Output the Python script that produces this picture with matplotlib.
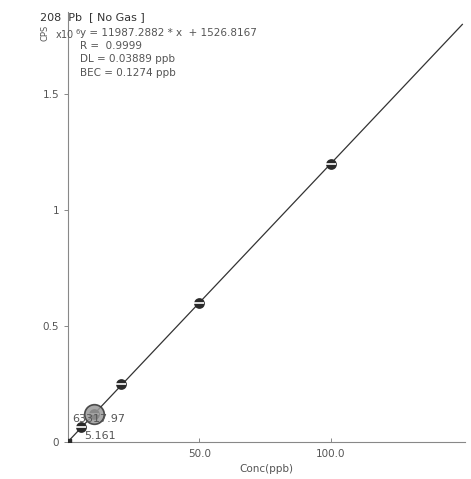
import matplotlib
matplotlib.use("Agg")
import matplotlib.pyplot as plt
import numpy as np

# Calibration standards (ppb) and measured counts per second
conc = [0.0, 5.0, 10.0, 20.0, 50.0, 100.0]
cps = [1526.8, 63317.97, 121500.0, 250000.0, 600000.0, 1200000.0]
slope = 11987.2882
intercept = 1526.8167
x_ticks = [50.0, 100.0]
x_tick_labels = ["50.0", "100.0"]
y_ticks = [0.0, 0.5e6, 1.0e6, 1.5e6]
y_tick_labels = ["0", "0.5", "1", "1.5"]
stats = ["y = 11987.2882 * x  + 1526.8167", "R =  0.9999",
         "DL = 0.03889 ppb", "BEC = 0.1274 ppb"]
selected_cps = "63317.97"
selected_conc = "5.161"

grey = "#555555"
fig = plt.figure(figsize=(4.71, 4.79), dpi=100)
ax = fig.add_axes([68 / 471, 37 / 479, 397 / 471, 430 / 479])
ax.set_xlim(0, 151)
ax.set_ylim(0, 1.853e6)

# fitted calibration line
xf = np.array([0.0, 150.0])
ax.plot(xf, slope * xf + intercept, color="#333333", lw=0.9, zorder=2)

# standards
ax.scatter(conc[1:], cps[1:], s=60, color="#2a2a2a", zorder=3, linewidths=0)
ax.scatter(conc[1:], cps[1:], s=45, marker="_", color="white", linewidths=1.2, zorder=4)
ax.scatter([conc[0]], [cps[0]], s=25, marker="s", color="#2a2a2a", zorder=3)
# highlighted standard
ax.scatter([conc[2]], [cps[2]], s=200, facecolor="#9a9a9a", edgecolor="#333333",
           linewidths=1.2, zorder=5, alpha=0.85)

ax.text(1.5, 0.085e6, selected_cps, fontsize=8, color=grey, zorder=6)
ax.text(6.3, 0.012e6, selected_conc, fontsize=8, color=grey, zorder=6)

for s in ["top", "right"]:
    ax.spines[s].set_visible(False)
for s in ["left", "bottom"]:
    ax.spines[s].set_color("#888888")
    ax.spines[s].set_linewidth(0.8)

ax.set_xticks(x_ticks)
ax.set_xticklabels(x_tick_labels)
ax.set_yticks(y_ticks)
ax.set_yticklabels(y_tick_labels)
ax.tick_params(axis="both", labelsize=7.5, labelcolor=grey, color="#888888",
               length=3, width=0.7)
ax.tick_params(axis="x", direction="in", pad=5)
ax.set_xlabel("Conc(ppb)", fontsize=7.5, color=grey, labelpad=4)

fig.text(40 / 471, 1 - 17 / 479, "208  Pb  [ No Gas ]", fontsize=8, color="#333333",
         va="center")
fig.text(45 / 471, 1 - 33 / 479, "CPS", fontsize=6, color=grey, rotation=90,
         va="center", ha="center")
fig.text(55 / 471, 1 - 34 / 479, "x10$^{\\ 6}$", fontsize=7, color=grey, va="center")
for i, line in enumerate(stats):
    fig.text(80 / 471, 1 - (33 + 13.2 * i) / 479, line, fontsize=7.5, color=grey,
             va="center")

fig.savefig("out.png", dpi=100)
